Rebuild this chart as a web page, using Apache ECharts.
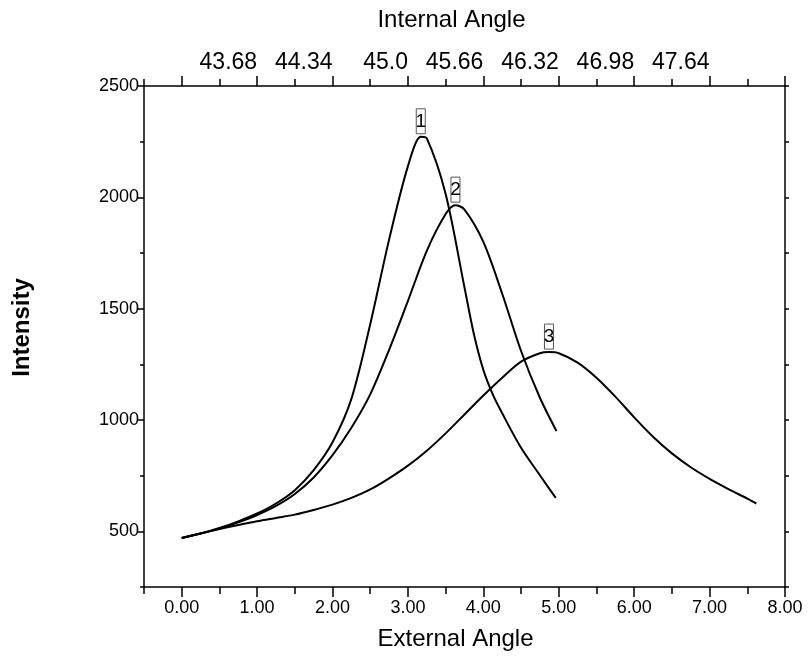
<!DOCTYPE html>
<html>
<head>
<meta charset="utf-8">
<script src="https://cdn.jsdelivr.net/npm/echarts@6/dist/echarts.min.js"></script>
<style>
    html, body { margin: 0; padding: 0; background: #fff; }
    #chart { width: 812px; height: 659px; }
</style>
</head>
<body>
<div id="chart"></div>
<script>
// curve 1
var x1 = [0, 0.25, 0.5, 0.75, 1.0, 1.25, 1.5, 1.75, 2.0, 2.25, 2.5, 2.75, 3.0, 3.17, 3.25, 3.5, 3.75, 3.875, 4.0, 4.125, 4.25, 4.5, 4.75, 4.96];
var y1 = [470, 490, 515, 545, 580, 625, 685, 775, 900, 1095, 1430, 1810, 2140, 2272, 2265, 2015, 1595, 1385, 1225, 1115, 1030, 875, 752, 650];
// curve 2
var x2 = [0, 0.25, 0.5, 0.75, 1.0, 1.25, 1.5, 1.75, 2.0, 2.25, 2.5, 2.75, 3.0, 3.25, 3.5, 3.63, 3.75, 4.0, 4.25, 4.5, 4.75, 4.97];
var y2 = [470, 490, 512, 540, 573, 614, 668, 742, 842, 965, 1115, 1315, 1535, 1760, 1925, 1965, 1945, 1800, 1567, 1310, 1100, 950];
// curve 3
var x3 = [0, 0.25, 0.5, 0.75, 1.0, 1.25, 1.5, 1.75, 2.0, 2.25, 2.5, 2.75, 3.0, 3.25, 3.5, 3.75, 4.0, 4.25, 4.5, 4.75, 4.87, 5.0, 5.25, 5.5, 5.75, 6.0, 6.25, 6.5, 6.75, 7.0, 7.25, 7.5, 7.62];
var y3 = [470, 490, 510, 528, 545, 560, 575, 596, 620, 650, 688, 738, 795, 862, 940, 1025, 1110, 1190, 1262, 1300, 1305, 1300, 1258, 1190, 1105, 1012, 925, 850, 788, 736, 690, 647, 625];

var peakNames = ['1', '2', '3'];
var bottomTicks = [0, 1, 2, 3, 4, 5, 6, 7, 8];
var minorTicks = [-0.5, 0.5, 1.5, 2.5, 3.5, 4.5, 5.5, 6.5, 7.5];
var topTicks = [1, 2, 3, 4, 5, 6, 7];
var topLabels = ['43.68', '44.34', '45.0', '45.66', '46.32', '46.98', '47.64'];
var yTicks = [500, 1000, 1500, 2000, 2500];

var font = 'Liberation Sans, Arial, sans-serif';

function makeData(xs, ys, name) {
    var top = ys.indexOf(Math.max.apply(null, ys));
    return xs.map(function(x, i) {
        var item = {value: [x, ys[i]]};
        if (i === top) {
            item.label = {
                show: true,
                position: 'top',
                distance: 3,
                formatter: name,
                fontSize: 19,
                fontFamily: font,
                color: '#000',
                width: 9,
                height: 25,
                lineHeight: 25,
                align: 'center',
                borderColor: '#555',
                borderWidth: 1,
                padding: 0
            };
        }
        return item;
    });
}

function lineSeries(xs, ys, name) {
    return {
        type: 'line',
        xAxisIndex: 0,
        yAxisIndex: 0,
        smooth: 0.3,
        showSymbol: true,
        symbol: 'circle',
        symbolSize: 0,
        label: {show: false},
        lineStyle: {color: '#000', width: 2},
        itemStyle: {color: '#000'},
        data: makeData(xs, ys, name),
        z: 3
    };
}

var axisLine = {show: true, onZero: false, lineStyle: {color: '#000', width: 1.5}};

var myChart = echarts.init(document.getElementById('chart'));
myChart.setOption({
    backgroundColor: '#fff',
    animation: false,
    grid: {left: 144, right: 27, top: 86, bottom: 72},
    xAxis: [{
        type: 'value', position: 'bottom', min: -0.5, max: 8,
        name: 'External Angle', nameLocation: 'middle', nameGap: 40,
        nameTextStyle: {fontSize: 24, fontFamily: font, color: '#000', padding: [0, 18, 0, 0]},
        axisLine: axisLine,
        axisTick: {show: true, customValues: bottomTicks, length: 10, lineStyle: {color: '#000', width: 1.5}},
        axisLabel: {customValues: bottomTicks, fontSize: 18, fontFamily: font, color: '#000', margin: 12,
            formatter: function(v) { return v.toFixed(2); }},
        splitLine: {show: false}
    }, {
        type: 'value', position: 'bottom', min: -0.5, max: 8,
        axisLine: {show: false, onZero: false},
        axisTick: {show: true, customValues: minorTicks, length: 7, lineStyle: {color: '#000', width: 1.5}},
        axisLabel: {show: false},
        splitLine: {show: false}
    }, {
        type: 'value', position: 'top', min: -0.5, max: 8,
        name: 'Internal Angle', nameLocation: 'middle', nameGap: 54,
        nameTextStyle: {fontSize: 24, fontFamily: font, color: '#000', padding: [0, 26, 0, 0]},
        axisLine: axisLine,
        axisTick: {show: true, customValues: bottomTicks, length: 10, lineStyle: {color: '#000', width: 1.5}},
        axisLabel: {customValues: topTicks, fontSize: 23, fontFamily: font, color: '#000', margin: 12,
            align: 'right',
            formatter: function(v) { return topLabels[topTicks.indexOf(Math.round(v))]; }},
        splitLine: {show: false}
    }, {
        type: 'value', position: 'top', min: -0.5, max: 8,
        axisLine: {show: false, onZero: false},
        axisTick: {show: true, customValues: minorTicks, length: 7, lineStyle: {color: '#000', width: 1.5}},
        axisLabel: {show: false},
        splitLine: {show: false}
    }],
    yAxis: [{
        type: 'value', position: 'left', min: 250, max: 2500,
        name: 'Intensity', nameLocation: 'middle', nameGap: 110, nameRotate: 90,
        nameTextStyle: {fontSize: 24, fontWeight: 'bold', fontFamily: font, color: '#000', padding: [0, 0, 0, 18]},
        axisLine: axisLine,
        axisTick: {show: true, customValues: yTicks, length: 7, lineStyle: {color: '#000', width: 1.5}},
        axisLabel: {customValues: yTicks, fontSize: 18, fontFamily: font, color: '#000', margin: 5,
            formatter: function(v) { return String(v); }},
        splitLine: {show: false}
    }, {
        type: 'value', position: 'left', min: 250, max: 2500, interval: 250,
        axisLine: {show: false, onZero: false},
        axisTick: {show: true, length: 4, lineStyle: {color: '#000', width: 1.5}},
        axisLabel: {show: false},
        splitLine: {show: false}
    }, {
        type: 'value', position: 'right', min: 250, max: 2500, interval: 250,
        axisLine: axisLine,
        axisTick: {show: true, length: 4, lineStyle: {color: '#000', width: 1.5}},
        axisLabel: {show: false},
        splitLine: {show: false}
    }],
    series: [
        lineSeries(x1, y1, peakNames[0]),
        lineSeries(x2, y2, peakNames[1]),
        lineSeries(x3, y3, peakNames[2])
    ]
});
</script>
</body>
</html>
